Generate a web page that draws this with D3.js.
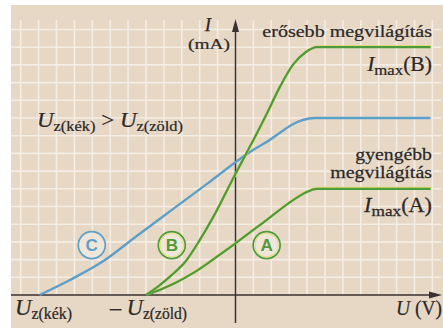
<!DOCTYPE html>
<html>
<head>
<meta charset="utf-8">
<script src="https://cdn.jsdelivr.net/npm/d3@7"></script>
<style>
  body { margin: 0; background: #fff; }
  svg { display: block; }
  text { font-family: "Liberation Serif", "Times New Roman", serif; fill: #2c2828; stroke: #2c2828; stroke-width: 0.25px; }
</style>
</head>
<body>
<div id="graph"></div>
<script>
"use strict";

/* global d3 */

// curves, in grid cells (U to the right, I upwards)
let uC = [-10.95, -9.3, -7.4, -5.5, -3.5, -1.5, 0, 1.0, 1.9, 2.6, 3.2, 3.8, 4.4, 10.9];
let iC = [0, 0.82, 1.9, 3.35, 4.85, 6.35, 7.5, 8.2, 8.75, 9.25, 9.65, 9.9, 10, 10];

let uB = [-5, -4.3, -3.65, -2.75, -2, -1.25, 0, 0.55, 1.1, 1.75, 2.5, 3.2, 3.9, 4.55, 10.9];
let iB = [0, 0.5, 1.05, 1.95, 3.1, 4.4, 6.85, 7.9, 8.95, 10.25, 11.8, 13.0, 13.7, 14, 14];

let uA = [-5, -4.2, -3.4, -2.35, -0.85, 0, 1.75, 3.2, 3.9, 4.55, 10.9];
let iA = [0, 0.3, 0.66, 1.25, 2.3, 2.92, 4.25, 5.35, 5.78, 6, 6];

let curveNames = ['C', 'B', 'A'];
let labelU = [-8.03, -3.56, 1.74];
let labelI = [2.82, 2.82, 2.82];

let gridU = d3.range(-12, 12);
let gridI = d3.range(1, 16);

let translateStr = (x, y) => {
  return 'translate(' + x + ', ' + y + ')';
};

let width = 443;
let height = 328;
let blue = '#5c9fc9';
let green = '#4f9a3b';
let ink = '#3a3131';

let x = d3.scaleLinear()
  .domain([-12, 11])
  .range([235.5 - 12 * 17.9, 235.5 + 11 * 17.9]);

let y = d3.scaleLinear()
  .domain([0, 15])
  .range([295, 295 - 15 * 17.7]);

let svg = d3.select('#graph')
  .append('svg')
  .attr('width', width)
  .attr('height', height);

// paper
svg.append('rect')
  .attr('x', 11)
  .attr('y', 5)
  .attr('width', width - 11)
  .attr('height', height - 5)
  .attr('fill', '#e7d8c6');

let grid = svg.append('g')
  .attr('stroke', '#f7f1ea')
  .attr('stroke-width', 1.6)
  .attr('opacity', 0.85);

grid.selectAll('.gv')
  .data(gridU)
  .enter().append('line')
  .attr('x1', d => x(d))
  .attr('x2', d => x(d))
  .attr('y1', 20)
  .attr('y2', y(0));

grid.selectAll('.gh')
  .data(gridI)
  .enter().append('line')
  .attr('x1', 11)
  .attr('x2', 441)
  .attr('y1', d => y(d))
  .attr('y2', d => y(d));

// axes with arrows
svg.append('line')
  .attr('x1', x(0)).attr('x2', x(0))
  .attr('y1', 323).attr('y2', 30)
  .attr('stroke', ink).attr('stroke-width', 1.5);

svg.append('path')
  .attr('d', 'M' + x(0) + ',19 L' + (x(0) - 3.5) + ',32 L' + (x(0) + 3.5) + ',32 Z')
  .attr('fill', ink);

svg.append('line')
  .attr('x1', 11).attr('x2', 430)
  .attr('y1', y(0)).attr('y2', y(0))
  .attr('stroke', ink).attr('stroke-width', 1.5);

svg.append('path')
  .attr('d', 'M442,' + y(0) + ' L429,' + (y(0) - 3.5) + ' L429,' + (y(0) + 3.5) + ' Z')
  .attr('fill', ink);

// curves
let line = d3.line()
  .x(d => x(d[0]))
  .y(d => y(d[1]))
  .curve(d3.curveMonotoneX);

svg.append('path')
  .datum(d3.zip(uC, iC))
  .attr('d', line)
  .attr('fill', 'none')
  .attr('stroke', blue)
  .attr('stroke-width', 2.4);

[d3.zip(uA, iA), d3.zip(uB, iB)].forEach(pts => {
  svg.append('path')
    .datum(pts)
    .attr('d', line)
    .attr('transform', translateStr(0.7, -0.7))
    .attr('fill', 'none')
    .attr('stroke', '#d9dc6e')
    .attr('stroke-width', 2.6);
  svg.append('path')
    .datum(pts)
    .attr('d', line)
    .attr('fill', 'none')
    .attr('stroke', green)
    .attr('stroke-width', 2.2);
});

// circled curve names
let marks = svg.selectAll('.mark')
  .data(curveNames)
  .enter().append('g')
  .attr('transform', (d, k) => translateStr(x(labelU[k]), y(labelI[k])));

marks.append('circle')
  .attr('r', 13.5)
  .attr('fill', '#efe6d9')
  .attr('stroke', d => d === 'C' ? blue : green)
  .attr('stroke-width', 1.7);

marks.filter(d => d !== 'C').append('circle')
  .attr('r', 11.7)
  .attr('fill', 'none')
  .attr('stroke', '#e2df78')
  .attr('stroke-width', 1);

marks.append('text')
  .attr('text-anchor', 'middle')
  .attr('y', 6)
  .style('font-family', '"Liberation Sans", Arial, sans-serif')
  .style('font-weight', 'bold')
  .style('font-size', '17px')
  .style('stroke', 'none')
  .style('fill', d => d === 'C' ? blue : green)
  .text(d => d);

// texts; parts are [string, kind] with kind 'i' italic, 's' subscript, '' plain
let addText = (x0, y0, parts, size, subSize, anchor, w) => {
  let t = svg.append('text')
    .attr('x', x0)
    .attr('y', y0)
    .attr('text-anchor', anchor)
    .style('font-size', size + 'px');
  let shifted = false;
  parts.forEach(p => {
    let s = t.append('tspan').text(p[0]);
    if (p[1] === 's') {
      s.style('font-size', subSize + 'px');
      if (!shifted) s.attr('dy', 4);
      shifted = true;
    } else {
      if (shifted) s.attr('dy', -4);
      shifted = false;
      if (p[1] === 'i') s.style('font-style', 'italic');
    }
  });
  if (w) {
    let k = w / t.node().getBBox().width;
    t.attr('transform', translateStr(x0, 0) + ' scale(' + k + ', 1) ' + translateStr(-x0, 0));
  }
  return t;
};

addText(208, 31, [['I', 'i']], 19, 14, 'middle');
addText(188, 49, [['(mA)', '']], 15, 12, 'start', 42);
addText(432, 37, [['erősebb megvilágítás', '']], 17.5, 12, 'end', 170);
addText(432, 71, [['I', 'i'], ['max', 's'], ['(B)', '']], 20, 15.5, 'end', 66);
addText(37, 127, [['U', 'i'], ['z(kék)', 's'], [' > ', ''], ['U', 'i'], ['z(zöld)', 's']], 21, 15, 'start', 146);
addText(432, 160, [['gyengébb', '']], 17.5, 12, 'end', 77);
addText(432, 178, [['megvilágítás', '']], 17.5, 12, 'end', 102);
addText(432, 212, [['I', 'i'], ['max', 's'], ['(A)', '']], 20, 15.5, 'end', 69);
addText(15, 315, [['U', 'i'], ['z(kék)', 's']], 23, 16, 'start', 57);
addText(110, 315, [['– ', ''], ['U', 'i'], ['z(zöld)', 's']], 23, 16, 'start', 78);
addText(396, 315, [['U', 'i'], [' (V)', '']], 22, 15, 'start', 46);
</script>
</body>
</html>
